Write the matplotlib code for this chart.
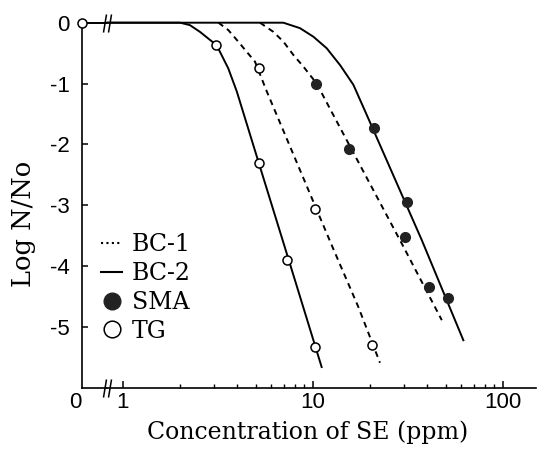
import matplotlib
matplotlib.use('Agg')
import matplotlib.pyplot as plt
from matplotlib.lines import Line2D
from matplotlib.path import Path
from matplotlib.ticker import FixedLocator, NullFormatter

plt.rcParams['font.family'] = 'Liberation Sans'
plt.rcParams['axes.unicode_minus'] = False

# fitted curves: concentration (ppm) vs log N/No
tg_bc2_conc = [0.83, 2.0, 2.25, 2.54, 2.81, 3.11, 3.58, 3.97, 5.26, 7.57, 11.1]
tg_bc2_log = [0, 0, -0.04, -0.15, -0.26, -0.37, -0.75, -1.13, -2.37, -3.97, -5.66]

tg_bc1_conc = [3.18, 3.58, 4.04, 4.48, 4.95, 5.71, 12.55, 17.3, 22.5]
tg_bc1_log = [0, -0.12, -0.31, -0.48, -0.64, -1.13, -3.66, -4.67, -5.59]

sma_bc1_conc = [5.26, 6.18, 6.98, 7.88, 8.89, 10.45, 12.8, 29.3, 47.6]
sma_bc1_log = [0, -0.15, -0.31, -0.53, -0.72, -1.0, -1.52, -3.63, -4.89]

sma_bc2_conc = [0.83, 6.98, 8.54, 10.04, 11.8, 13.9, 16.3, 19.2, 37.3, 61.8]
sma_bc2_log = [0, 0, -0.09, -0.23, -0.42, -0.70, -1.02, -1.52, -3.57, -5.22]

# measured points
tg_conc = [3.1, 5.2, 5.2, 7.3, 10.3, 10.3, 20.4]
tg_log = [-0.36, -0.75, -2.30, -3.90, -3.07, -5.33, -5.30]
tg_zero_conc = [0]
tg_zero_log = [0]

sma_conc = [10.4, 15.5, 20.9, 31.1, 30.5, 40.8, 51.2]
sma_log = [-1.01, -2.07, -1.73, -2.95, -3.53, -4.35, -4.52]

legend_labels = ['BC-1', 'BC-2', 'SMA', 'TG']
y_ticks = [0, -1, -2, -3, -4, -5]
x_ticks = [1, 10, 100]

serif = {'family': 'DejaVu Serif', 'size': 17}
dash = (0, (3.0, 2.4))
lw = 1.4

fig = plt.figure(figsize=(5.39, 4.49), dpi=100)
W, H = 539, 449
# narrow axis for concentration 0, then the log axis after the break
ax0 = fig.add_axes([82 / W, 61.3 / H, 25 / W, 365 / H])
ax = fig.add_axes([107 / W, 61.3 / H, 429 / W, 365 / H])

ax0.set_xlim(0, 1)
ax0.set_ylim(-6, 0)
ax0.spines['top'].set_visible(False)
ax0.spines['right'].set_visible(False)
ax0.set_yticks(y_ticks)
ax0.set_yticklabels([str(t) for t in y_ticks])
ax0.set_xticks(tg_zero_conc)
ax0.set_xticklabels(['0'])
ax0.tick_params(axis='y', direction='in', length=4, width=1.1, labelsize=16, pad=9)
ax0.tick_params(axis='x', length=0, labelsize=16, pad=3)
for lbl in ax0.get_xticklabels():
    lbl.set_horizontalalignment('right')
ax0.axhline(0, color='k', lw=lw, clip_on=False)
ax0.plot(tg_zero_conc, tg_zero_log, ls='none', marker='o', ms=6.5, mfc='white',
         mec='k', mew=1.1, clip_on=False, zorder=5)
ax0.set_ylabel('Log N/No', fontdict={'family': 'DejaVu Serif', 'size': 18.5})
ax0.yaxis.set_label_coords(-1.85, 0.45)
for s in ax0.spines.values():
    s.set_linewidth(1.2)

ax.set_xscale('log')
ax.set_xlim(0.824, 149)
ax.set_ylim(-6, 0)
for side in ['left', 'top', 'right']:
    ax.spines[side].set_visible(False)
ax.spines['bottom'].set_linewidth(1.2)
ax.set_yticks([])
ax.xaxis.set_major_locator(FixedLocator(x_ticks))
ax.set_xticklabels([str(t) for t in x_ticks])
ax.xaxis.set_minor_locator(FixedLocator([2, 3, 4, 5, 6, 7, 8, 9, 20, 30, 40, 50, 60, 70, 80, 90]))
ax.xaxis.set_minor_formatter(NullFormatter())
ax.tick_params(axis='x', which='major', direction='in', length=5, width=1.1, labelsize=16, pad=3)
ax.tick_params(axis='x', which='minor', direction='in', length=3, width=1.0)

ax.plot(tg_bc2_conc, tg_bc2_log, color='k', lw=lw, clip_on=False)
ax.plot(tg_bc1_conc, tg_bc1_log, color='k', lw=lw, ls=dash, clip_on=False)
ax.plot(sma_bc1_conc, sma_bc1_log, color='k', lw=lw, ls=dash, clip_on=False)
ax.plot(sma_bc2_conc, sma_bc2_log, color='k', lw=lw, clip_on=False)

ax.plot(tg_conc, tg_log, ls='none', marker='o', ms=6.5, mfc='white', mec='k', mew=1.1,
        clip_on=False, zorder=5)
ax.plot(sma_conc, sma_log, ls='none', marker='o', ms=7, mfc='#222222', mec='#222222',
        clip_on=False, zorder=5)

# axis break marks
brk = Path([(-4, -9), (-1, 9), (1, -9), (4, 9)],
           [Path.MOVETO, Path.LINETO, Path.MOVETO, Path.LINETO])
ax.plot([0, 0], [0, 1], transform=ax.transAxes, ls='none', marker=brk, ms=13,
        mfc='none', mec='k', mew=1.1, clip_on=False, zorder=6)

ax.set_xlabel('Concentration of SE (ppm)', fontdict=serif)
ax.xaxis.set_label_coords(0.4685, -0.09)

handles = [
    Line2D([], [], color='k', lw=1.5, ls=(0, (1, 1.6))),
    Line2D([], [], color='k', lw=1.5),
    Line2D([], [], ls='none', marker='o', ms=12, mfc='#222222', mec='#222222'),
    Line2D([], [], ls='none', marker='o', ms=12, mfc='white', mec='k', mew=1.1),
]
ax.legend(handles, legend_labels, loc='upper left', bbox_to_anchor=(101 / W, 1 - 233 / H),
          bbox_transform=fig.transFigure, frameon=False, prop=serif,
          handlelength=0.9, handletextpad=0.4, labelspacing=0.25,
          borderpad=0, borderaxespad=0)

fig.savefig('out.png', dpi=100)
